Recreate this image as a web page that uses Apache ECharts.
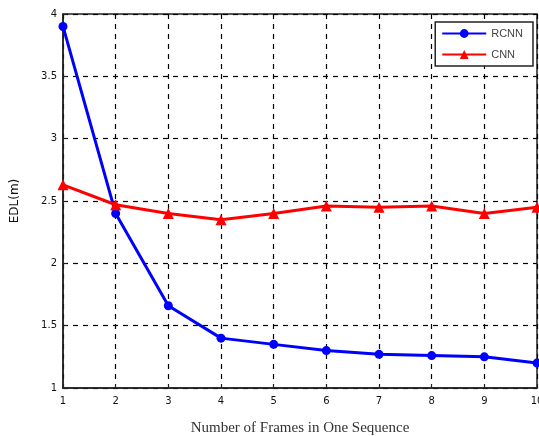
<!DOCTYPE html>
<html>
<head>
<meta charset="utf-8">
<script src="https://cdn.jsdelivr.net/npm/echarts@6/dist/echarts.min.js"></script>
<style>
html, body { margin: 0; padding: 0; background: #fff; }
#chart { width: 539px; height: 436px; }
</style>
</head>
<body>
<div id="chart"></div>
<script>
// frames per sequence and EDL values
var frames = [1, 2, 3, 4, 5, 6, 7, 8, 9, 10];
var rcnn = [3.9, 2.4, 1.66, 1.4, 1.35, 1.3, 1.27, 1.26, 1.25, 1.2];
var cnn = [2.63, 2.47, 2.4, 2.35, 2.4, 2.46, 2.45, 2.46, 2.4, 2.45];
var yTicks = [1, 1.5, 2, 2.5, 3, 3.5, 4];

function pairs(vals) {
    return frames.map(function(f, i) { return [f, vals[i]]; });
}

var myChart = echarts.init(document.getElementById('chart'));

var dashed = { show: true, lineStyle: { color: '#000', type: [5, 5], width: 1.2 } };

var option = {
    animation: false,
    backgroundColor: '#fff',
    grid: {
        left: 63, right: 2, top: 14, bottom: 48,
        outerBoundsMode: 'none',
        show: true, borderColor: '#222', borderWidth: 1.5
    },
    legend: {
        right: 6, top: 22,
        orient: 'vertical',
        itemWidth: 44, itemHeight: 11, itemGap: 10,
        padding: [6, 10, 6, 6],
        borderColor: '#222', borderWidth: 1.5, borderRadius: 0,
        backgroundColor: '#fff',
        textStyle: { fontFamily: 'Liberation Sans', fontSize: 11, color: '#444' },
        data: ['RCNN', 'CNN']
    },
    xAxis: {
        type: 'value',
        min: 1, max: 10, interval: 1,
        name: 'Number of Frames in One Sequence',
        nameLocation: 'middle', nameGap: 33,
        nameTextStyle: { fontFamily: 'Liberation Serif', fontSize: 15, color: '#333' },
        axisLine: { lineStyle: { color: '#222', width: 1.5 } },
        axisTick: { inside: true, length: 4, lineStyle: { color: '#222' } },
        axisLabel: { fontFamily: 'DejaVu Sans', fontSize: 10, color: '#111', margin: 8 },
        splitLine: dashed
    },
    yAxis: {
        type: 'value',
        min: 1, max: 4, interval: 0.5,
        name: 'EDL(m)',
        nameLocation: 'middle', nameGap: 42,
        nameTextStyle: { fontFamily: 'DejaVu Sans', fontSize: 12, color: '#111' },
        axisLine: { show: true, lineStyle: { color: '#222', width: 1.5 } },
        axisTick: { show: true, inside: true, length: 4, lineStyle: { color: '#222' } },
        axisLabel: {
            fontFamily: 'DejaVu Sans', fontSize: 10, color: '#111', margin: 6,
            formatter: function(v) { return yTicks.indexOf(v) >= 0 ? String(v) : ''; }
        },
        splitLine: dashed
    },
    series: [
        {
            name: 'RCNN',
            type: 'line',
            data: pairs(rcnn),
            symbol: 'circle', symbolSize: 9,
            itemStyle: { color: '#0000ff' },
            lineStyle: { color: '#0000ff', width: 3 }
        },
        {
            name: 'CNN',
            type: 'line',
            data: pairs(cnn),
            symbol: 'triangle', symbolSize: 11,
            itemStyle: { color: '#ff0000' },
            lineStyle: { color: '#ff0000', width: 3 }
        }
    ]
};

myChart.setOption(option);
</script>
</body>
</html>
